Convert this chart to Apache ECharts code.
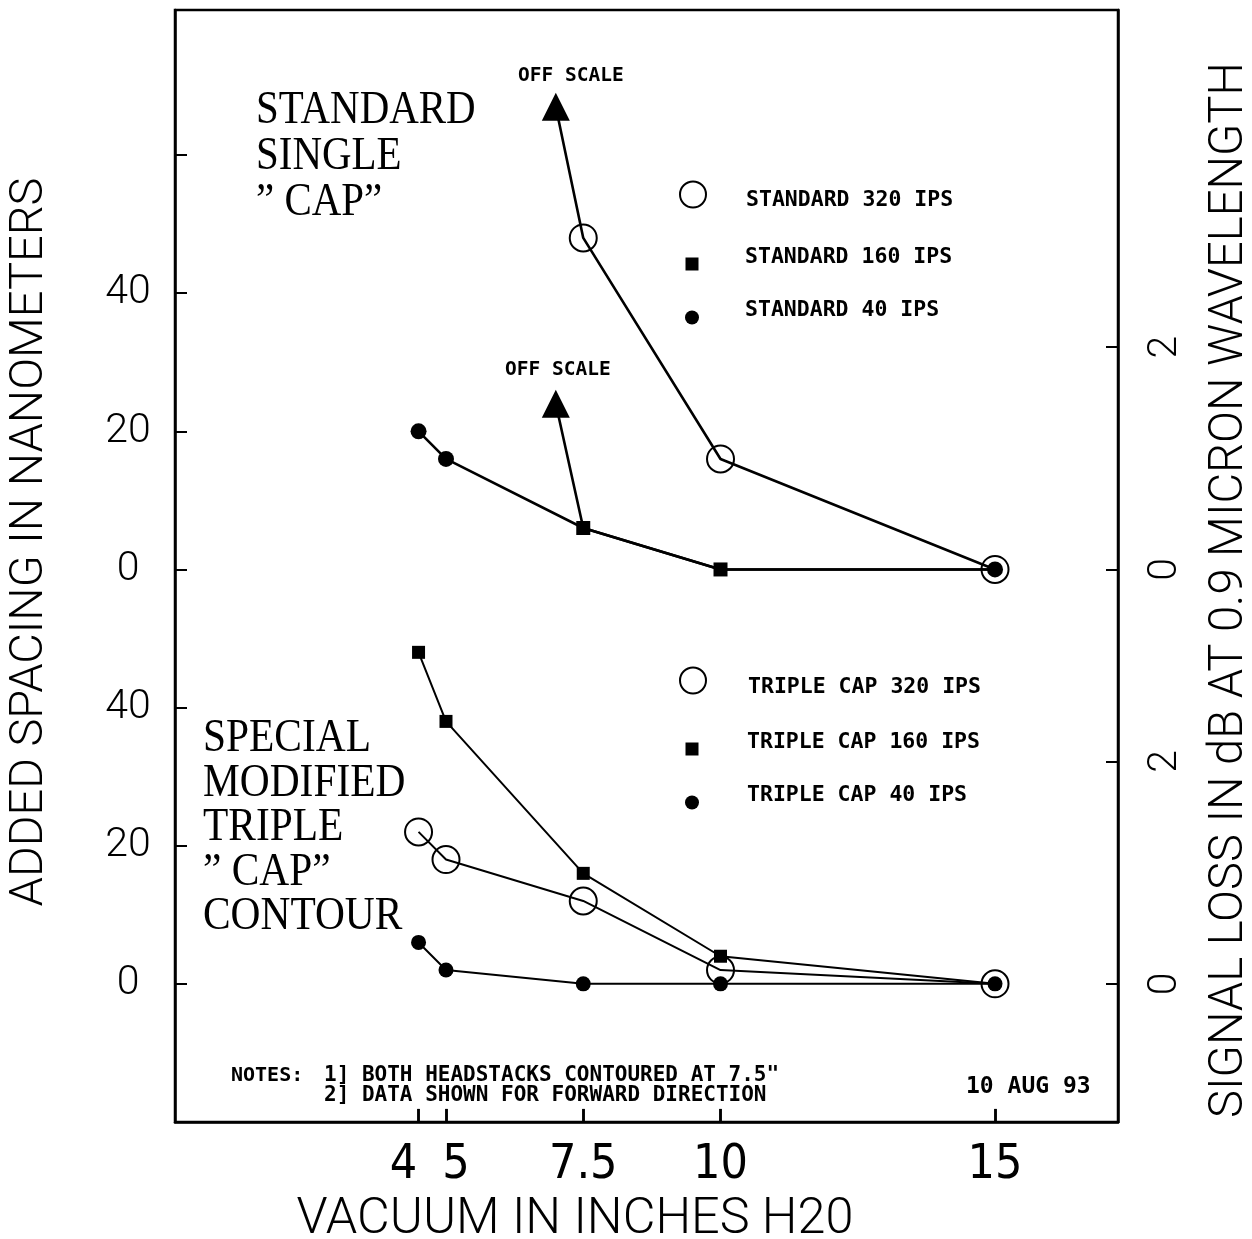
<!DOCTYPE html>
<html>
<head>
<meta charset="utf-8">
<script src="https://cdn.jsdelivr.net/npm/echarts@6/dist/echarts.min.js"></script>
<style>
html,body{margin:0;padding:0;background:#fff;}
#chart{width:1252px;height:1239px;}
</style>
</head>
<body>
<div id="chart"></div>
<script>
// ---- DATA ----
// Vacuum readings (inches H2O) as positioned on the drawn linear axis ("4" is drawn at 4.5)
const vacuumPos    = [4.5, 5, 7.5, 10, 15];
const vacuumLabels = ['4', '5', '7.5', '10', '15'];

// Upper panel: STANDARD SINGLE "CAP"  (added spacing, nm) ; null = no reading
const std320 = [null, null, 48, 16, 0];
const std160 = [null, null, 6, 0, 0];
const std40  = [20, 16, 6, 0, 0];
// off-scale arrows: [vacuum, nm]
const std320OffScale = [7, 67];
const std160OffScale = [7, 24];

// Lower panel: SPECIAL MODIFIED TRIPLE "CAP" CONTOUR (added spacing, nm)
const tri320 = [22, 18, 12, 2, 0];
const tri160 = [48, 38, 16, 4, 0];
const tri40  = [6, 2, 0, 0, 0];

// axis tick values
const nmTicks = [0, 20, 40];
const dbTicks = [0, 2];
const PANEL_OFFSET = 60;   // upper panel zero sits at 60 nm of the shared axis
const NM_PER_DB = 16.1;    // right axis scale (nm of spacing per dB of loss)

// ---- BUILD ----
const FONT_LIGHT = "Roboto, 'DejaVu Sans Condensed', sans-serif";
const FONT_NARROW = "'Liberation Sans Narrow', 'DejaVu Sans Condensed', sans-serif";
const FONT_MONO = "'DejaVu Sans Mono', 'Liberation Mono', monospace";
const FONT_SERIF = "'Liberation Serif', 'DejaVu Serif', serif";

const Y_MIN = -20, Y_MAX = 141;
const X_MIN = 0.064, X_MAX = 17.24;
const TICK_LEN = 1.9;      // inward tick length on the bottom frame, in axis units

function pts(vals, offset, hideIdx) {
  const out = [];
  vals.forEach((v, i) => {
    if (v === null) return;
    const item = { value: [vacuumPos[i], v + offset] };
    if (hideIdx && hideIdx.indexOf(i) >= 0) item.symbol = 'none';
    out.push(item);
  });
  return out;
}
function offItem(p, offset, labelOffset, dist) {
  return {
    value: [p[0], p[1] + offset],
    symbol: 'triangle',
    symbolSize: [28, 28],
    itemStyle: { color: '#000', borderWidth: 0 },
    label: {
      show: true, position: 'top', distance: dist, offset: labelOffset,
      formatter: 'OFF SCALE', color: '#000',
      fontFamily: FONT_MONO, fontWeight: 'bold', fontSize: 19.5
    }
  };
}
const hollow = { color: 'rgba(0,0,0,0)', borderColor: '#000', borderWidth: 2 };
const solid = { color: '#000' };

const series = [
  { name: 'STANDARD 320 IPS', symbol: 'circle', symbolSize: 27, itemStyle: hollow,
    lineStyle: { color: '#000', width: 2.6 },
    data: [offItem(std320OffScale, PANEL_OFFSET, [15, 0], 7)].concat(pts(std320, PANEL_OFFSET)) },
  { name: 'STANDARD 160 IPS', symbol: 'rect', symbolSize: 14, itemStyle: solid,
    lineStyle: { color: '#000', width: 2.6 },
    data: [offItem(std160OffScale, PANEL_OFFSET, [2, 0], 10)].concat(pts(std160, PANEL_OFFSET, [4])) },
  { name: 'STANDARD 40 IPS', symbol: 'circle', symbolSize: 16, itemStyle: solid,
    lineStyle: { color: '#000', width: 2.6 },
    data: pts(std40, PANEL_OFFSET, [2, 3]) },
  { name: 'TRIPLE CAP 320 IPS', symbol: 'circle', symbolSize: 27, itemStyle: hollow,
    lineStyle: { color: '#000', width: 2 },
    data: pts(tri320, 0) },
  { name: 'TRIPLE CAP 160 IPS', symbol: 'rect', symbolSize: 13, itemStyle: solid,
    lineStyle: { color: '#000', width: 2 },
    data: pts(tri160, 0, [4]) },
  { name: 'TRIPLE CAP 40 IPS', symbol: 'circle', symbolSize: 15, itemStyle: solid,
    lineStyle: { color: '#000', width: 2 },
    data: pts(tri40, 0),
    // inward tick marks on the bottom frame at the vacuum readings
    markLine: {
      silent: true, animation: false, symbol: ['none', 'none'],
      label: { show: false }, emphasis: { disabled: true },
      lineStyle: { color: '#000', width: 2.5, type: 'solid' },
      data: vacuumPos.map(x => [{ coord: [x, Y_MIN] }, { coord: [x, Y_MIN + TICK_LEN] }])
    } }
].map(s => Object.assign({
  type: 'line', xAxisIndex: 0, yAxisIndex: 0, showAllSymbol: true,
  animation: false, clip: false, emphasis: { disabled: true }
}, s));

const leftTickVals = nmTicks.concat(nmTicks.map(v => v + PANEL_OFFSET));
const rightTickVals = dbTicks.map(d => d * NM_PER_DB)
  .concat(dbTicks.map(d => d * NM_PER_DB + PANEL_OFFSET));

const LEG_FONT = 21.5;
function legendFor(name, left, top, size, icon, style, pad) {
  return {
    data: [name], left: left, top: top, padding: 0, orient: 'vertical',
    itemWidth: size, itemHeight: size, icon: icon, itemStyle: style,
    selectedMode: false,
    formatter: n => '{t|' + n + '}',
    textStyle: {
      color: '#000', fontFamily: FONT_MONO, fontWeight: 'bold', fontSize: LEG_FONT,
      rich: { t: { padding: pad, color: '#000', fontFamily: FONT_MONO,
                   fontWeight: 'bold', fontSize: LEG_FONT, lineHeight: LEG_FONT } }
    }
  };
}

const xLabelStyle = { fontFamily: FONT_NARROW, fontSize: 48, color: '#000' };
const xRich = {
  l: Object.assign({ padding: [0, 30, 0, 0] }, xLabelStyle),
  r: Object.assign({ padding: [0, 0, 0, 20] }, xLabelStyle),
  c: Object.assign({}, xLabelStyle)
};
const xShift = { '4': 'l', '5': 'r' };

const option = {
  backgroundColor: '#fff',
  animation: false,
  grid: { left: 175, right: 134, top: 10, bottom: 117, show: true,
          borderColor: '#000', borderWidth: 2.5, backgroundColor: 'transparent' },
  xAxis: {
    type: 'value', min: X_MIN, max: X_MAX, position: 'bottom',
    splitLine: { show: false },
    axisLine: { show: true, onZero: false, lineStyle: { color: '#000', width: 2.5 } },
    axisTick: { show: true, inside: true, length: 13, customValues: vacuumPos,
                lineStyle: { color: '#000', width: 2.5 } },
    axisLabel: {
      customValues: vacuumPos, margin: 20, color: '#000',
      fontFamily: FONT_NARROW, fontSize: 48, rich: xRich,
      formatter: v => {
        const lab = vacuumLabels[vacuumPos.indexOf(v)];
        return '{' + (xShift[lab] || 'c') + '|' + lab + '}';
      }
    }
  },
  yAxis: [
    {
      type: 'value', min: Y_MIN, max: Y_MAX, position: 'left',
      splitLine: { show: false },
      axisLine: { show: true, onZero: false, lineStyle: { color: '#000', width: 2.5 } },
      axisTick: { show: true, inside: true, length: 12,
                  customValues: leftTickVals.concat([PANEL_OFFSET * 2]),
                  lineStyle: { color: '#000', width: 2 } },
      axisLabel: {
        customValues: leftTickVals, margin: 47, align: 'center', color: '#000',
        fontFamily: FONT_LIGHT, fontWeight: 300, fontSize: 41,
        formatter: v => String(v >= PANEL_OFFSET ? v - PANEL_OFFSET : v)
      }
    },
    {
      type: 'value', min: Y_MIN, max: Y_MAX, position: 'right',
      splitLine: { show: false },
      axisLine: { show: true, onZero: false, lineStyle: { color: '#000', width: 2.5 } },
      axisTick: { show: true, inside: true, length: 12, customValues: rightTickVals,
                  lineStyle: { color: '#000', width: 2 } },
      axisLabel: {
        customValues: rightTickVals, margin: 48, rotate: 90, color: '#000',
        align: 'center', verticalAlign: 'middle',
        fontFamily: FONT_LIGHT, fontWeight: 300, fontSize: 41,
        formatter: v => String(Math.round((v >= PANEL_OFFSET - 1 ? v - PANEL_OFFSET : v) / NM_PER_DB))
      }
    }
  ],
  legend: [
    legendFor('STANDARD 320 IPS', 679, 177.5, 26, 'circle', hollow, [12, 0, 0, 35]),
    legendFor('STANDARD 160 IPS', 685.5, 246.5, 13, 'rect', solid, [0, 0, 13, 41.5]),
    legendFor('STANDARD 40 IPS', 685, 299.5, 14, 'circle', solid, [0, 0, 14, 41]),
    legendFor('TRIPLE CAP 320 IPS', 679, 662.5, 26, 'circle', hollow, [14, 0, 0, 37]),
    legendFor('TRIPLE CAP 160 IPS', 685.5, 731, 13, 'rect', solid, [0, 0, 14, 43.5]),
    legendFor('TRIPLE CAP 40 IPS', 685, 784.5, 14, 'circle', solid, [0, 0, 14, 43])
  ],
  series: series,
  graphic: [
    { type: 'text', x: 256, y: 88, scaleX: 0.89,
      style: { text: 'STANDARD\nSINGLE\n\u201D CAP\u201D', font: "46px " + FONT_SERIF,
               lineHeight: 46, fill: '#000', verticalAlign: 'top' } },
    { type: 'text', x: 203, y: 717, scaleX: 0.9,
      style: { text: 'SPECIAL\nMODIFIED\nTRIPLE\n\u201D CAP\u201D\nCONTOUR', font: "46px " + FONT_SERIF,
               lineHeight: 44.5, fill: '#000', verticalAlign: 'top' } },
    { type: 'text', x: 30, y: 542, rotation: Math.PI / 2,
      style: { text: 'ADDED SPACING IN NANOMETERS', font: "300 47px " + FONT_LIGHT,
               fill: '#000', align: 'center', verticalAlign: 'middle' } },
    { type: 'text', x: 1230, y: 590, rotation: Math.PI / 2,
      style: { text: 'SIGNAL LOSS IN dB AT 0.9 MICRON WAVELENGTH', font: "300 47.2px " + FONT_LIGHT,
               fill: '#000', align: 'center', verticalAlign: 'middle' } },
    { type: 'text', x: 575, y: 1220,
      style: { text: 'VACUUM IN INCHES H20', font: "300 50.4px " + FONT_LIGHT,
               fill: '#000', align: 'center', verticalAlign: 'middle' } },
    { type: 'text', x: 231, y: 1076,
      style: { text: 'NOTES:', font: "bold 20px " + FONT_MONO, fill: '#000', verticalAlign: 'middle' } },
    { type: 'text', x: 324, y: 1076,
      style: { text: '1] BOTH HEADSTACKS CONTOURED AT 7.5"', font: "bold 21px " + FONT_MONO,
               fill: '#000', verticalAlign: 'middle' } },
    { type: 'text', x: 324, y: 1096,
      style: { text: '2] DATA SHOWN FOR FORWARD DIRECTION', font: "bold 21px " + FONT_MONO,
               fill: '#000', verticalAlign: 'middle' } },
    { type: 'text', x: 966, y: 1087,
      style: { text: '10 AUG 93', font: "bold 23px " + FONT_MONO, fill: '#000', verticalAlign: 'middle' } }
  ]
};

const chart = echarts.init(document.getElementById('chart'), null, { renderer: 'canvas' });
chart.setOption(option);
</script>
</body>
</html>
